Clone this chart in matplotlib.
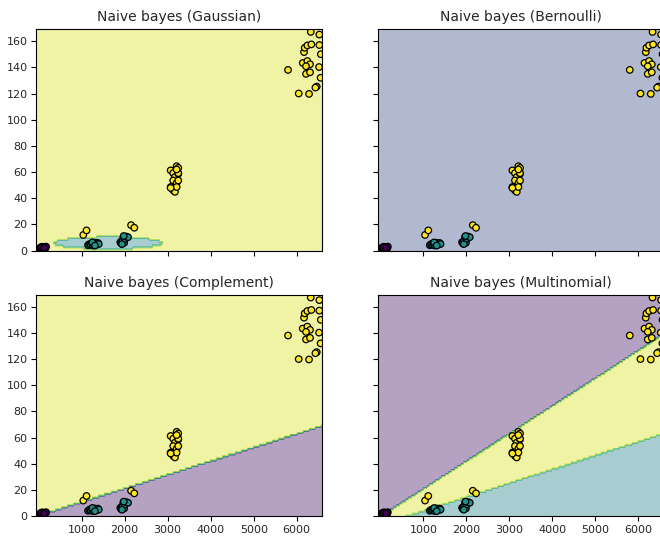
import numpy as np
import matplotlib
matplotlib.use("Agg")
import matplotlib.pyplot as plt

# points: (x, y) per class
purple_x = [30, 55, 80, 100, 120, 140, 160, 175, 70, 130]
purple_y = [2.0, 2.6, 3.0, 2.2, 2.8, 2.4, 1.8, 3.1, 2.5, 2.1]

teal_x = [1150, 1180, 1210, 1240, 1260, 1280, 1300, 1320, 1340, 1360, 1380, 1400, 1250, 1310,
          1900, 1920, 1950, 1970, 1990, 2010, 2040, 2080, 1940, 1980]
teal_y = [4.2, 5.0, 4.5, 5.8, 4.0, 5.2, 6.0, 4.4, 5.5, 4.8, 5.9, 5.1, 6.3, 3.9,
          6.5, 5.5, 7.8, 10.5, 6.0, 9.0, 10.8, 10.3, 5.0, 11.2]

yellow_x = [1040, 1115, 2150, 2225,
            3070, 3130, 3209, 3247, 3170, 3247, 3130, 3209, 3247, 3070, 3130, 3170, 3209, 3247, 3070, 3209,
            5798, 6046, 6286, 6216, 6309, 6140, 6247, 6309, 6216, 6519, 6170, 6186, 6247, 6340,
            6526, 6326, 6526, 6465, 6434, 6560, 6555]
yellow_y = [12, 15.5, 19.5, 17.5,
            61.3, 59.2, 64.5, 63.2, 56.2, 58.7, 53.6, 51.6, 53.6, 48.6, 46.1, 44.9, 48.6, 59.2, 47.9, 62.0,
            138, 120, 119.7, 135, 136.2, 143.3, 144.8, 142.3, 140.8, 140.2, 151.6, 154.9, 156.7, 157.5,
            157, 167, 165, 125.3, 124.5, 150, 132]

titles = ["Naive bayes (Gaussian)", "Naive bayes (Bernoulli)",
          "Naive bayes (Complement)", "Naive bayes (Multinomial)"]

# decision regions
gauss_center = (1617, 5.8)        # teal blob, class 1 inside
gauss_halfwidth = (1277, 4.8)
bernoulli_fill = "#3b528b"        # one flat region
complement_line = [(100, 1.5), (6580, 69)]       # class 0 below, class 2 above
multinomial_upper = [(20, 0), (6502, 137)]       # class 0 above
multinomial_lower = [(600, 0), (6502, 62.5)]     # class 1 below

X = np.column_stack([purple_x + teal_x + yellow_x, purple_y + teal_y + yellow_y]).astype(float)
y = np.array([0] * len(purple_x) + [1] * len(teal_x) + [2] * len(yellow_x))

xx, yy = np.meshgrid(np.arange(-60, 6600, 20.0), np.arange(0, 171, 1.5))


def above(line):
    (x0, y0), (x1, y1) = line
    return yy > y0 + (xx - x0) * (y1 - y0) / (x1 - x0)


Z_gauss = np.where(((xx - gauss_center[0]) / gauss_halfwidth[0]) ** 2
                   + ((yy - gauss_center[1]) / gauss_halfwidth[1]) ** 2 < 1, 1, 2)
Z_bern = np.zeros_like(xx)
Z_comp = np.where(above(complement_line), 2, 0)
Z_multi = np.where(above(multinomial_upper), 0, np.where(above(multinomial_lower), 2, 1))
regions = [Z_gauss, Z_bern, Z_comp, Z_multi]

fig = plt.figure(figsize=(6.6, 5.36), dpi=100)
positions = [[0.0545, 0.5323, 0.4329, 0.413], [0.5723, 0.5323, 0.4329, 0.413],
             [0.0545, 0.0368, 0.4329, 0.413], [0.5723, 0.0368, 0.4329, 0.413]]
levels = np.arange(0, 2.01, 0.25)

for i, (Z, title) in enumerate(zip(regions, titles)):
    ax = fig.add_axes(positions[i])
    if i == 1:
        ax.contourf(xx, yy, Z, levels=[-1, 1], colors=[bernoulli_fill], alpha=0.4)
    else:
        ax.contourf(xx, yy, Z, levels=levels, cmap="viridis", alpha=0.4)
    ax.scatter(X[:, 0], X[:, 1], c=y, s=22, edgecolor="k", linewidths=0.9)
    ax.set_xlim(-60, 6580)
    ax.set_ylim(0, 169)
    ax.set_xticks([1000, 2000, 3000, 4000, 5000, 6000])
    ax.set_yticks(range(0, 170, 20))
    ax.tick_params(labelsize=8, length=3.5, pad=2.5, labelcolor="#262626")
    ax.set_title(title, fontsize=10, color="#262626")
    if i < 2:
        ax.set_xticklabels([])
    if i % 2 == 1:
        ax.set_yticklabels([])

fig.savefig("out.png", dpi=100)
